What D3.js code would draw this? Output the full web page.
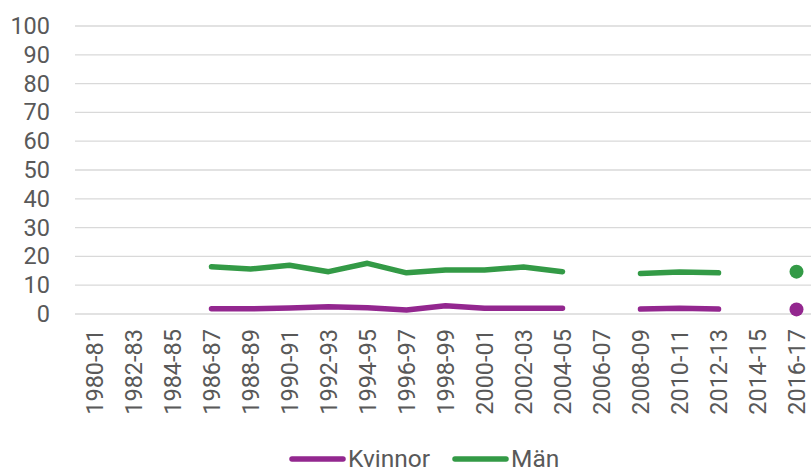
<!DOCTYPE html>
<html><head><meta charset="utf-8">
<script src="https://cdn.jsdelivr.net/npm/d3@7"></script>
<style>body{margin:0;background:#fff}svg{display:block}text{font-family:Roboto,sans-serif;fill:#595959}</style>
</head><body><svg id="c" width="811" height="469"></svg>
<script>
const categories = ["1980-81","1982-83","1984-85","1986-87","1988-89","1990-91","1992-93","1994-95","1996-97","1998-99","2000-01","2002-03","2004-05","2006-07","2008-09","2010-11","2012-13","2014-15","2016-17"];
const kvinnor = [null,null,null,1.8,1.8,2.1,2.5,2.2,1.4,2.9,2.0,2.0,2.0,null,1.7,2.0,1.7,null,1.6];
const man     = [null,null,null,16.4,15.6,16.9,14.7,17.6,14.3,15.3,15.3,16.3,14.7,null,14.1,14.6,14.3,null,14.7];
const yTicks = [0,10,20,30,40,50,60,70,80,90,100];
const seriesNames = ["Kvinnor","Män"];
const colors = ["#93278f","#339a46"];

const svg = d3.select("#c");
const x = d3.scaleBand().domain(categories).range([75, 816]);
const y = d3.scaleLinear().domain([0,100]).range([314, 26]);
const fs = 23.5;

// gridlines
svg.append("g").selectAll("line").data(yTicks).join("line")
  .attr("x1",75).attr("x2",811).attr("y1",d=>y(d)).attr("y2",d=>y(d))
  .attr("stroke","#d9d9d9").attr("stroke-width",1.3);

// y axis labels
const ya = svg.append("g").attr("transform","translate(50,0)")
  .call(d3.axisLeft(y).tickValues(yTicks).tickSize(0).tickPadding(0));
ya.select(".domain").remove();
ya.selectAll("text").style("font-size",fs+"px").attr("fill","#595959").attr("font-family","Roboto");

// x axis labels
const xa = svg.append("g").attr("transform","translate(0,329)")
  .call(d3.axisBottom(x).tickSize(0).tickPadding(0));
xa.select(".domain").remove();
xa.selectAll("text").style("font-size",fs+"px").attr("fill","#595959").attr("font-family","Roboto")
  .attr("transform","rotate(-90)").attr("text-anchor","end").attr("dy","0.35em").attr("x",0).attr("y",0);

const series = [kvinnor, man];
const line = d3.line().defined(d=>d.v!=null).x(d=>x(d.c)+x.bandwidth()/2).y(d=>y(d.v));
series.forEach((s,i)=>{
  const data = categories.map((c,j)=>({c, v:s[j]}));
  svg.append("path").datum(data).attr("d",line).attr("fill","none")
    .attr("stroke",colors[i]).attr("stroke-width",5.5).attr("stroke-linecap","round").attr("stroke-linejoin","round");
  const iso = data.filter((d,j)=>d.v!=null && (j===0||s[j-1]==null) && (j===s.length-1||s[j+1]==null));
  svg.append("g").selectAll("circle").data(iso).join("circle")
    .attr("cx",d=>x(d.c)+x.bandwidth()/2).attr("cy",d=>y(d.v)).attr("r",7).attr("fill",colors[i]);
});

// legend
const lg = svg.append("g");
const legX = [290, 453];
seriesNames.forEach((n,i)=>{
  lg.append("line").attr("x1",legX[i]+2).attr("x2",legX[i]+53).attr("y1",459).attr("y2",459)
    .attr("stroke",colors[i]).attr("stroke-width",5.5).attr("stroke-linecap","round");
  lg.append("text").attr("x",legX[i]+58).attr("y",467).style("font-size","24.5px").text(n);
});
</script></body></html>
